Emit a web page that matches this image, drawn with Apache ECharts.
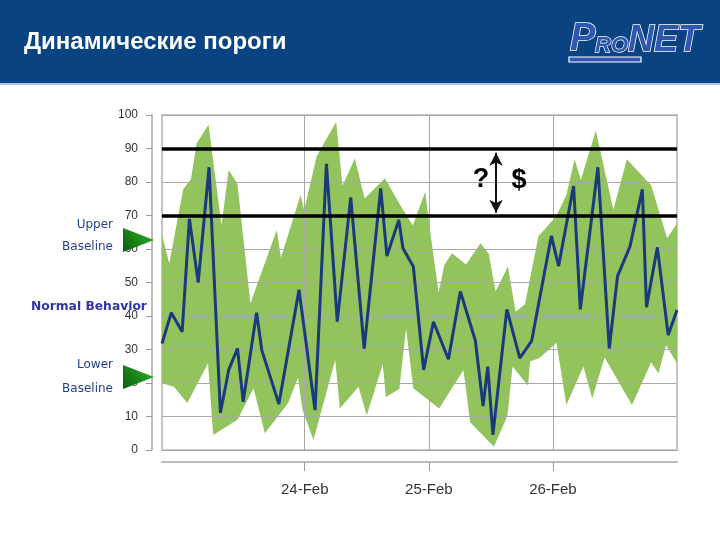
<!DOCTYPE html>
<html><head><meta charset="utf-8">
<script src="https://cdn.jsdelivr.net/npm/echarts@6/dist/echarts.min.js"></script>
<style>html,body{margin:0;padding:0;background:#fff}#c{width:720px;height:540px}</style>
</head><body><div id="c"></div>
<script>
// ---- data (x in hours from 23-Feb 00:00) ----
const titleText = 'Динамические пороги';
const dayTicks = [24, 48, 72];
const dayLabels = ['24-Feb', '25-Feb', '26-Feb'];
const thresholds = [90, 70];

const lineX = [-3.6, -1.8, 0.3, 1.7, 3.4, 5.5, 7.7, 9.3, 11.0, 12.1, 14.7, 15.7, 19.0, 22.9, 26.0, 28.2, 30.3, 32.9, 35.5, 38.7, 39.9, 42.2, 43.0, 45.0, 47.0, 48.9, 51.8, 54.1, 57.0, 58.5, 59.4, 60.4, 63.1, 65.6, 67.9, 71.7, 73.1, 76.0, 77.3, 80.7, 82.9, 84.5, 86.9, 89.3, 90.1, 92.2, 94.3, 96];
const lineY = [31.8, 41, 35.3, 69, 50, 84.4, 11.1, 23.9, 30.3, 14.4, 41, 29.8, 13.7, 47.8, 11.9, 85.4, 38.3, 75.4, 30.3, 78.1, 57.9, 68.7, 60.2, 54.8, 23.9, 38.3, 27.1, 47.3, 32.7, 13.1, 24.9, 4.5, 42, 27.4, 32.6, 63.9, 54.9, 78.8, 42, 84.4, 30.3, 51.9, 60.7, 77.8, 42.6, 60.5, 34.3, 41.8];

const upperX = [-3.6, -2.2, 0.5, 2.0, 3.1, 5.4, 7.9, 9.3, 11.0, 13.5, 18.6, 19.4, 23.2, 23.9, 26.3, 27.7, 30.1, 31.3, 33.7, 35.6, 39.5, 42.4, 44.9, 47.3, 48.4, 49.9, 51.0, 52.5, 55.2, 58.0, 59.6, 60.9, 63.3, 64.8, 66.6, 69.2, 72.6, 74.6, 76.2, 77.4, 80.3, 83.7, 86.3, 91.0, 94.1, 96];
const upperY = [64.2, 55.7, 77.8, 80.8, 91.5, 97.2, 67, 83.6, 79.4, 43.8, 65.7, 57.4, 76.1, 71.6, 87.6, 91.5, 98, 78.9, 87, 75.1, 81.1, 73.3, 67, 77.1, 63.7, 47, 55.2, 58.7, 55.4, 61.7, 58.6, 47.3, 54.8, 41.3, 43.5, 63.8, 69.7, 76.1, 86.8, 80.6, 95.3, 71.7, 86.8, 79, 63.2, 67.7];

const lowerX = [-3.6, -1.3, 1.3, 5.3, 6.3, 11.0, 14.1, 16.3, 20.8, 22.7, 23.6, 25.7, 29.9, 30.8, 34.4, 36.0, 39.1, 39.7, 42.3, 43.6, 45.0, 50.0, 54.7, 56.0, 60.6, 63.2, 64.2, 67.2, 67.6, 69.4, 72.7, 74.6, 77.9, 79.6, 82.0, 87.3, 91.0, 92.4, 93.9, 96];
const lowerY = [19.9, 18.9, 14, 25.9, 4.5, 9, 18.4, 5, 14, 21.6, 11.9, 3, 26.9, 12.4, 18.9, 10.4, 25.6, 15.8, 18.2, 36.3, 18.4, 12.4, 23.9, 8.3, 1, 10.2, 24.9, 19.2, 26.4, 27.5, 32, 13.4, 24.9, 15.4, 27.6, 13.4, 26.2, 22.9, 31.3, 25.9];

const arrowX = 61;
const arrowY = [88.7, 70.8];

// ---- chart ----
const chart = echarts.init(document.getElementById('c'), null, {renderer: 'canvas'});
const triGrad = {type: 'linear', x: 0, y: 1, x2: 1, y2: 0,
  colorStops: [{offset: 0, color: '#0a5e0a'}, {offset: 1, color: '#2fb42f'}]};
const labelFont = '"DejaVu Sans", Verdana, sans-serif';

chart.setOption({
  animation: false,
  grid: {left: 162, right: 43, top: 115, bottom: 90, show: true,
    borderColor: '#c6c6c6', borderWidth: 2, backgroundColor: '#fff'},
  xAxis: {
    type: 'value', min: -3.6, max: 96, offset: 12, z: 3,
    axisLine: {show: true, onZero: false, lineStyle: {color: '#bdbdbd', width: 2}},
    axisTick: {show: true, customValues: dayTicks, length: 9, lineStyle: {color: '#9a9a9a', width: 1}},
    axisLabel: {customValues: dayTicks, margin: 20, fontSize: 15, color: '#333',
      fontFamily: '"Liberation Sans", Arial, sans-serif',
      formatter: function (v) { const i = dayTicks.indexOf(v); return i >= 0 ? dayLabels[i] : ''; }},
    splitLine: {show: true, lineStyle: {color: '#a8a8a8', width: 1}}
  },
  yAxis: {
    type: 'value', min: 0, max: 100, interval: 10, offset: 10, z: 3,
    axisLine: {show: true, onZero: false, lineStyle: {color: '#bdbdbd', width: 2}},
    axisTick: {show: true, length: 6, lineStyle: {color: '#9a9a9a', width: 1}},
    axisLabel: {margin: 14, fontSize: 12, color: '#333', fontFamily: '"Liberation Sans", Arial, sans-serif'},
    splitLine: {show: true, lineStyle: {color: '#a8a8a8', width: 1}}
  },
  series: [
    {
      type: 'custom', name: 'band', z: 1, clip: true,
      data: [[0, 50]], encode: {x: 0, y: 1},
      renderItem: function (params, api) {
        const pts = [];
        for (let i = 0; i < upperX.length; i++) pts.push(api.coord([upperX[i], upperY[i]]));
        for (let i = lowerX.length - 1; i >= 0; i--) pts.push(api.coord([lowerX[i], lowerY[i]]));
        return {type: 'polygon', shape: {points: pts}, style: {fill: '#92c35d'}};
      }
    },
    {
      type: 'line', name: 'value', z: 5,
      data: lineX.map((x, i) => [x, lineY[i]]),
      showSymbol: false, symbol: 'none',
      lineStyle: {color: '#1a3a7c', width: 3},
      markLine: {
        silent: true, symbol: 'none', z: 6,
        label: {show: false},
        lineStyle: {color: '#000', width: 3.5, type: 'solid'},
        data: thresholds.map(v => ({yAxis: v}))
      }
    },
    {
      type: 'line', name: 'arrow', z: 7, data: [],
      markLine: {
        silent: true, symbol: ['arrow', 'arrow'], symbolSize: [10, 13],
        label: {show: false},
        lineStyle: {color: '#111', width: 2, type: 'solid'},
        data: [[{coord: [arrowX, arrowY[0]]}, {coord: [arrowX, arrowY[1]]}]]
      }
    }
  ],
  graphic: [
    {type: 'rect', z: 50, shape: {x: 0, y: 0, width: 720, height: 83}, style: {fill: '#0a4382'}},
    {type: 'rect', z: 50, shape: {x: 0, y: 83, width: 720, height: 2}, style: {fill: '#a6c9e8'}},
    {type: 'text', z: 51, style: {x: 24, y: 42, text: titleText, fill: '#fff',
      font: 'bold 24px "Liberation Sans", Arial, sans-serif', align: 'left', verticalAlign: 'middle'}},
    // logo
    {type: 'rect', z: 51, shape: {x: 569, y: 57, width: 72, height: 5}, style: {fill: '#2f56b0', stroke: '#fff', lineWidth: 1.2}},
    {type: 'text', z: 52, style: {x: 570, y: 59, text: 'P', fill: '#2f56b0', stroke: '#fff', lineWidth: 1.5,
      font: 'italic bold 38px "Liberation Sans", Arial', align: 'left', verticalAlign: 'bottom'}},
    {type: 'text', z: 52, style: {x: 595, y: 57, text: 'RO', fill: '#2f56b0', stroke: '#fff', lineWidth: 1.3,
      font: 'italic bold 22px "Liberation Sans", Arial', align: 'left', verticalAlign: 'bottom'}},
    {type: 'text', z: 52, style: {x: 628, y: 59, text: 'NET', fill: '#2f56b0', stroke: '#fff', lineWidth: 1.5,
      font: 'italic bold 36px "Liberation Sans", Arial', align: 'left', verticalAlign: 'bottom'}},
    // annotations
    {type: 'text', z: 60, style: {x: 481, y: 180, text: '?', fill: '#000',
      font: 'bold 27px "Liberation Sans", Arial', align: 'center', verticalAlign: 'middle'}},
    {type: 'text', z: 60, style: {x: 519, y: 181, text: '$', fill: '#000',
      font: 'bold 27px "Liberation Sans", Arial', align: 'center', verticalAlign: 'middle'}},
    {type: 'text', z: 60, style: {x: 113, y: 225, text: 'Upper', fill: '#223f8c', font: '12px ' + labelFont, align: 'right', verticalAlign: 'middle'}},
    {type: 'text', z: 60, style: {x: 113, y: 247, text: 'Baseline', fill: '#223f8c', font: '12px ' + labelFont, align: 'right', verticalAlign: 'middle'}},
    {type: 'text', z: 60, style: {x: 31, y: 307, text: 'Normal Behavior', fill: '#3434a8', font: 'bold 12.3px ' + labelFont, align: 'left', verticalAlign: 'middle'}},
    {type: 'text', z: 60, style: {x: 113, y: 365, text: 'Lower', fill: '#223f8c', font: '12px ' + labelFont, align: 'right', verticalAlign: 'middle'}},
    {type: 'text', z: 60, style: {x: 113, y: 389, text: 'Baseline', fill: '#223f8c', font: '12px ' + labelFont, align: 'right', verticalAlign: 'middle'}},
    {type: 'polygon', z: 60, shape: {points: [[123, 228], [154, 240], [123, 252]]}, style: {fill: triGrad}},
    {type: 'polygon', z: 60, shape: {points: [[123, 365], [154, 377], [123, 389]]}, style: {fill: triGrad}}
  ]
});
</script>
</body></html>
